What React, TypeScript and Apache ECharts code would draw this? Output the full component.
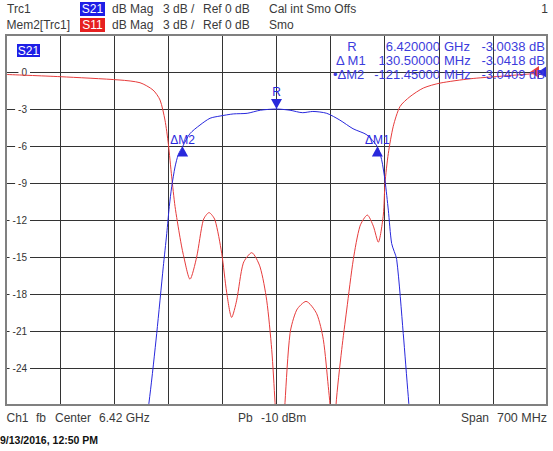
import React, { useEffect, useRef } from "react";
import * as echarts from "echarts";

// ---- Channel settings ----
const CENTER_MHZ = 6420;
const SPAN_MHZ = 700;
const POWER_DBM = -10;
const DIV_MHZ = 70;
const Y_MIN = -27;
const Y_MAX = 3;
const Y_STEP = 3;

// ---- Trace S21 (blue, live trace) ----
const s21FreqMHz = [
  6070, 6200, 6243, 6256, 6265, 6273.5, 6278, 6281.3, 6284.4, 6288.7, 6292.9, 6298.55,
  6308, 6321, 6334, 6347, 6364, 6382, 6399, 6420, 6437.5, 6454, 6467, 6485, 6502,
  6519, 6537, 6550.5, 6556, 6560.4, 6564.7, 6569, 6575.5, 6584, 6590.5, 6599, 6650, 6770,
];
const s21Db = [
  -45, -40, -32, -26.3, -21.2, -15.8, -13.1, -10.9, -9.3, -7.7, -6.7, -6.04,
  -5.0, -4.3, -3.75, -3.57, -3.4, -3.35, -3.1, -3.0, -3.1, -3.3, -3.2, -3.35, -3.9,
  -4.6, -5.1, -6.05, -7.1, -8.8, -11.2, -13.9, -15.2, -21.2, -26.3, -32, -40, -45,
];

// ---- Memory trace S11 (red) ----
const s11FreqMHz = [
  6070, 6140, 6217.5, 6243.4, 6260.2, 6269.3, 6275.7, 6280, 6284.4, 6288.7, 6295.1, 6299.4,
  6308.1, 6316.7, 6325.3, 6332.7, 6340.4, 6349.1, 6355.6, 6362, 6368.5, 6377, 6387.9,
  6398.7, 6407.3, 6413.8, 6418.1, 6424.5, 6431, 6437.5, 6446.1, 6458.2, 6472, 6480.6,
  6487, 6489.2, 6493.1, 6497, 6504.4, 6510.8, 6519.4, 6528, 6537.5, 6545.3, 6551.7,
  6558.2, 6560.4, 6564.7, 6571.1, 6579.8, 6592.7, 6610, 6631.6, 6670.4, 6709.2, 6770,
];
const s11Db = [
  -0.2, -0.38, -0.65, -0.87, -1.46, -2.27, -3.9, -5.8, -8.5, -10.9, -13.4, -14.8,
  -16.8, -15.0, -12.0, -11.4, -12.0, -14.7, -17.9, -19.9, -18.5, -15.5, -14.65,
  -15.8, -18.5, -22.5, -26.8, -34, -26.8, -21.2, -19.3, -18.6, -19.6, -21.7,
  -25.5, -27, -33, -27, -22.5, -19.3, -15.2, -12.5, -11.6, -12.5, -13.8,
  -11.6, -9.0, -6.6, -4.4, -2.8, -2.0, -1.3, -0.9, -0.55, -0.35, -0.05,
];

// ---- Markers ----
const refName = "R";
const refFreqMHz = 6420;
const refDb = -3.0038;
const deltaNames = ["\u0394 M1", "\u2022\u0394M2"];
const deltaLabels = ["\u0394M1", "\u0394M2"];
const deltaFreqMHz = [130.5, -121.45];
const deltaDb = [-3.0418, -3.0409];

const FONT = '"Liberation Sans", Arial, sans-serif';
const BLUE = "#2828dc";
const RED = "#e63c3c";
const TABLE_BLUE = "#3c3cdc";
const TXT = "#3a3a3a";

export default function App() {
  const ref = useRef<HTMLDivElement>(null);

  useEffect(() => {
    document.body.style.margin = "0";
    if (!ref.current) return;
    const chart = echarts.init(ref.current, undefined, { renderer: "svg" });

    const s21 = s21FreqMHz.map((f, i) => [f - CENTER_MHZ, s21Db[i]]);
    const s11 = s11FreqMHz.map((f, i) => [f - CENTER_MHZ, s11Db[i]]);
    const half = SPAN_MHZ / 2;

    const markerLabel = (txt: string, dist: number) => ({
      show: true,
      position: "top",
      distance: dist,
      formatter: txt,
      color: BLUE,
      fontSize: 12,
      fontFamily: FONT,
    });

    const blueMarks: any[] = [
      {
        name: refName,
        coord: [refFreqMHz - CENTER_MHZ, refDb],
        symbol: "path://M0,0L10,0L5,10Z",
        symbolSize: [11, 10],
        symbolOffset: [0, -5],
        label: markerLabel(refName, 1),
      },
      ...deltaFreqMHz.map((df, i) => ({
        name: deltaLabels[i],
        coord: [refFreqMHz + df - CENTER_MHZ, refDb + deltaDb[i]],
        symbol: "triangle",
        symbolSize: [11, 10],
        symbolOffset: [0, 5],
        label: markerLabel(deltaLabels[i], 1),
      })),
      {
        name: "ref-level",
        coord: [half, 0],
        symbol: "path://M0,6L9,0L9,12Z",
        symbolSize: [9, 12],
        symbolOffset: [-4.5, 0],
        label: { show: false },
      },
    ];

    const fmtFreq = (mhz: number, isRef: boolean) =>
      isRef ? (mhz / 1000).toFixed(6) : mhz.toFixed(5);

    const tableRows = [
      { name: refName, val: fmtFreq(refFreqMHz, true), unit: "GHz", db: refDb.toFixed(4) + " dB", center: true },
      ...deltaFreqMHz.map((df, i) => ({
        name: deltaNames[i],
        val: fmtFreq(df, false),
        unit: "MHz",
        db: deltaDb[i].toFixed(4) + " dB",
        center: false,
      })),
    ];
    const rowY = [46, 60.5, 74];
    const nameX = [352, 336, 333];

    const t = (text: string, x: number, y: number, opts: any = {}) => ({
      type: "text",
      x,
      y,
      z: 50,
      style: {
        text,
        fill: opts.fill || TXT,
        font: opts.font || `12px ${FONT}`,
        align: opts.align || "left",
        verticalAlign: "middle",
      },
    });

    const graphics: any[] = [
      // header row 1
      t("Trc1", 7, 9),
      { type: "rect", z: 49, shape: { x: 80, y: 2, width: 25, height: 14 }, style: { fill: "#1e1ee6" } },
      t("S21", 92.5, 9, { fill: "#ffffff", align: "center" }),
      t("dB Mag", 112, 9),
      t("3 dB /", 163, 9),
      t("Ref 0 dB", 203, 9),
      t("Cal int Smo Offs", 269, 9),
      t("1", 548, 9, { align: "right" }),
      // header row 2
      t("Mem2[Trc1]", 6.5, 25),
      { type: "rect", z: 49, shape: { x: 80, y: 18, width: 25, height: 14 }, style: { fill: "#e62020" } },
      t("S11", 92.5, 25, { fill: "#ffffff", align: "center" }),
      t("dB Mag", 112, 25),
      t("3 dB /", 163, 25),
      t("Ref 0 dB", 203, 25),
      t("Smo", 269, 25),
      // trace tag in plot
      { type: "rect", z: 49, shape: { x: 17, y: 44, width: 23, height: 13 }, style: { fill: "#1e1ee6" } },
      t("S21", 28.5, 50.5, { fill: "#ffffff", align: "center" }),
      // plot border
      {
        type: "rect",
        z: 40,
        shape: { x: 6, y: 35, width: 541, height: 370 },
        style: { fill: "none", stroke: "#808080", lineWidth: 2 },
      },
      // footer
      t("Ch1", 6.5, 418),
      t("fb", 36, 418),
      t("Center", 55, 418),
      t(`${(CENTER_MHZ / 1000).toFixed(2)} GHz`, 99, 418),
      t("Pb", 238, 418),
      t(`${POWER_DBM} dBm`, 261, 418),
      t("Span", 461, 418),
      t(`${SPAN_MHZ} MHz`, 547, 418, { align: "right", font: `12.5px ${FONT}` }),
      t("9/13/2016, 12:50 PM", 0, 440, { font: `bold 10.5px ${FONT}`, fill: "#111" }),
    ];

    tableRows.forEach((r, i) => {
      const f = `13px ${FONT}`;
      graphics.push(
        t(r.name, nameX[i], rowY[i], { fill: TABLE_BLUE, font: f, align: r.center ? "center" : "left" }),
        t(r.val, 440, rowY[i], { fill: TABLE_BLUE, font: f, align: "right" }),
        t(r.unit, 444, rowY[i], { fill: TABLE_BLUE, font: f }),
        t(r.db, 545, rowY[i], { fill: TABLE_BLUE, font: f, align: "right" })
      );
    });

    chart.setOption({
      animation: false,
      backgroundColor: "#ffffff",
      grid: { left: 6, right: 6, top: 35, bottom: 46, show: false },
      xAxis: {
        type: "value",
        min: -half,
        max: half,
        interval: DIV_MHZ,
        axisLabel: { show: false },
        axisTick: { show: false },
        axisLine: { show: false },
        splitLine: { show: true, lineStyle: { color: "#333333", width: 1 } },
      },
      yAxis: [
        {
          type: "value",
          min: Y_MIN,
          max: Y_MAX,
          interval: Y_STEP,
          axisLabel: { show: false },
          axisTick: { show: false },
          axisLine: { show: false },
          splitLine: { show: true, lineStyle: { color: "#333333", width: 1 } },
        },
        {
          type: "value",
          position: "left",
          min: Y_MIN,
          max: Y_MAX,
          interval: Y_STEP,
          axisTick: { show: false },
          axisLine: { show: false },
          splitLine: { show: false },
          axisLabel: {
            show: true,
            inside: true,
            align: "right",
            margin: 24,
            showMinLabel: false,
            showMaxLabel: false,
            fontSize: 10,
            fontFamily: FONT,
            color: "#333333",
            backgroundColor: "#ffffff",
            padding: [0, 3, 0, 3],
          },
        },
      ],
      series: [
        {
          name: "S11 (Mem2)",
          type: "line",
          data: s11,
          yAxisIndex: 0,
          symbol: "none",
          smooth: 0.25,
          clip: true,
          lineStyle: { color: RED, width: 1 },
          itemStyle: { color: RED },
          markPoint: {
            silent: true,
            itemStyle: { color: RED },
            data: [
              {
                name: "ref-level-mem",
                coord: [half, 0],
                symbol: "path://M0,6L9,0L9,12Z",
                symbolSize: [9, 12],
                symbolOffset: [-12.5, 0],
                label: { show: false },
              },
            ],
          },
        },
        {
          name: "S21",
          type: "line",
          data: s21,
          yAxisIndex: 0,
          symbol: "none",
          smooth: 0.25,
          clip: true,
          lineStyle: { color: BLUE, width: 1 },
          itemStyle: { color: BLUE },
          markPoint: {
            silent: true,
            itemStyle: { color: BLUE },
            data: blueMarks,
          },
        },
      ],
      graphic: graphics,
    });

    return () => chart.dispose();
  }, []);

  return <div ref={ref} style={{ width: 553, height: 451 }} />;
}
